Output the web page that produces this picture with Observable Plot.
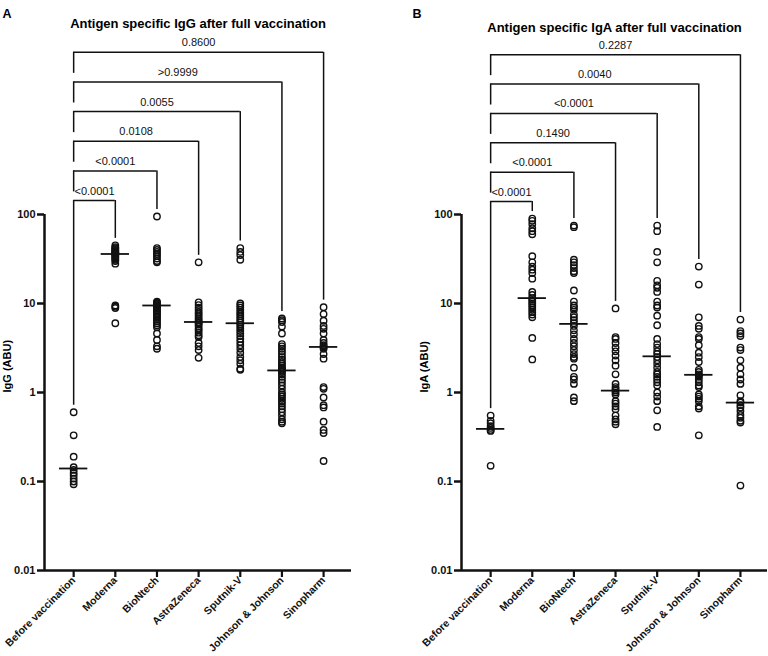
<!DOCTYPE html>
<html><head><meta charset="utf-8">
<script src="https://cdn.jsdelivr.net/npm/d3@7"></script>
<script src="https://cdn.jsdelivr.net/npm/@observablehq/plot@0.6"></script>
<style>
body{margin:0;background:#fff;}
#wrap{display:flex;width:768px;height:656px;overflow:hidden;}
svg{overflow:visible;}
</style></head><body><div id="wrap"></div>
<script>
// ---- data ----
const groups = ["Before vaccination","Moderna","BioNtech","AstraZeneca","Sputnik-V","Johnson & Johnson","Sinopharm"];
const yTicks = [0.01, 0.1, 1, 10, 100];

const igG_before = [0.6, 0.33, 0.19, 0.145, 0.135, 0.125, 0.117, 0.108, 0.1, 0.093];
const igG_moderna = [45, 43, 42, 41, 40, 39, 38, 37.5, 37, 36.5, 36, 35, 34, 33, 32, 31, 30, 28, 9.5, 9.2, 8.9, 6.0];
const igG_biontech = [95, 42, 40, 38, 36, 34, 32, 30, 29, 10.5, 10.2, 10, 9.8, 9.6, 9.4, 9.2, 9, 8.7, 8.4, 8.1, 7.8, 7.5, 7.2, 6.9, 6.6, 6.3, 6, 5.7, 5.4, 4.6, 3.9, 3.3, 3.1];
const igG_astra = [29, 10.3, 9.6, 9.0, 8.5, 8.0, 7.6, 7.2, 6.8, 6.5, 6.2, 6.0, 5.8, 5.5, 5.2, 5.0, 4.7, 4.4, 4.2, 3.6, 3.3, 3.0, 2.45];
const igG_sputnik = [42, 38, 35, 31, 10, 9.5, 9.0, 8.5, 8.0, 7.6, 7.2, 6.8, 6.4, 6.1, 5.8, 5.5, 5.2, 4.9, 4.6, 4.3, 4.0, 3.7, 3.4, 3.1, 2.8, 2.5, 2.3, 2.1, 1.85, 1.8];
const igG_jj = [6.8, 6.5, 6.2, 5.5, 4.6, 3.5, 3.3, 3.1, 2.9, 2.7, 2.5, 2.35, 2.2, 2.1, 2.0, 1.9, 1.85, 1.8, 1.75, 1.7, 1.6, 1.5, 1.4, 1.3, 1.2, 1.1, 1.0, 0.95, 0.9, 0.85, 0.8, 0.75, 0.7, 0.65, 0.6, 0.55, 0.5, 0.47, 0.45];
const igG_sinopharm = [9.1, 7.6, 6.4, 5.6, 5.2, 4.6, 3.9, 3.6, 3.4, 3.3, 3.2, 3.1, 2.7, 2.4, 1.15, 1.1, 0.88, 0.72, 0.68, 0.47, 0.38, 0.35, 0.17];
const igG_medians = [0.14, 36, 9.5, 6.2, 6.0, 1.77, 3.25];
const igG_pvalues = ["<0.0001", "<0.0001", "0.0108", "0.0055", ">0.9999", "0.8600"];

const igA_before = [0.55, 0.48, 0.45, 0.42, 0.40, 0.38, 0.37, 0.15];
const igA_moderna = [90, 85, 78, 70, 65, 60, 34, 29, 26, 24, 22, 19, 13.5, 12.5, 11.5, 11, 10.5, 10, 9.5, 9, 8.5, 8, 7.5, 7, 4.1, 2.35];
const igA_biontech = [75, 72, 31, 29, 27, 25, 23, 22, 14, 10.5, 9.5, 9, 8.5, 7.5, 7, 6.5, 6, 5.6, 5, 4.5, 4, 3.6, 3.3, 3, 2.7, 2.5, 2.4, 1.9, 1.5, 1.4, 1.25, 0.88, 0.8];
const igA_astra = [8.8, 4.2, 4.0, 3.6, 3.2, 2.9, 2.6, 2.3, 2.0, 1.6, 1.25, 1.15, 1.1, 1.05, 1.0, 0.95, 0.8, 0.75, 0.7, 0.65, 0.55, 0.5, 0.47, 0.44];
const igA_sputnik = [75, 65, 38, 29, 18, 16, 15, 13.5, 10.5, 9.5, 9, 7.3, 5.7, 4.0, 3.5, 3.2, 2.9, 2.7, 2.5, 2.3, 2.1, 1.9, 1.7, 1.6, 1.5, 1.4, 1.3, 1.2, 1.0, 0.9, 0.8, 0.63, 0.41];
const igA_jj = [26, 16.3, 7.0, 5.6, 5.2, 4.2, 4.0, 3.4, 2.8, 2.5, 2.2, 1.8, 1.7, 1.6, 1.55, 1.5, 1.4, 1.3, 1.2, 1.15, 0.95, 0.9, 0.85, 0.8, 0.7, 0.66, 0.33];
const igA_sinopharm = [6.6, 4.9, 4.6, 4.3, 3.2, 3.0, 2.3, 1.9, 1.6, 1.4, 1.25, 0.93, 0.8, 0.77, 0.72, 0.68, 0.62, 0.56, 0.52, 0.48, 0.46, 0.09];
const igA_medians = [0.39, 11.5, 5.9, 1.05, 2.55, 1.58, 0.77];
const igA_pvalues = ["<0.0001", "<0.0001", "0.1490", "<0.0001", "0.0040", "0.2287"];

// ---- drawing ----
const INK = "#111";
function panel(o) {
  const pts = o.series.flatMap((vals, i) => vals.map(v => ({i, v})));
  const pxPerDecade = 89;
  const legGap = Math.pow(10, 7 / pxPerDecade);
  const leftLeg = Math.pow(10, 21 / pxPerDecade);
  const br = o.pvalues.map((p, k) => {
    const j = k + 1;
    const y = Math.pow(10, 2 + o.base + o.step * k);
    return {
      j, p, y,
      rEnd: d3.max(o.series[j]) * legGap,
      lEnd: k === 0 ? d3.max(o.series[0]) * legGap : y / leftLeg
    };
  });
  const xmax = o.xmax;
  return Plot.plot({
    width: 384, height: 656,
    marginTop: 214, marginBottom: 86, marginLeft: o.marginLeft, marginRight: o.marginRight,
    x: {type: "linear", domain: [-0.7, xmax]},
    y: {type: "log", domain: [0.01, 100]},
    style: {fontFamily: "'Liberation Sans', Arial, Helvetica, sans-serif", fontSize: "11px", fontWeight: "bold", color: INK, background: "#fff", overflow: "visible"},
    marks: [
      Plot.axisY({ticks: yTicks, tickFormat: d => String(d), tickSize: 7, tickPadding: 2, strokeWidth: 2.5, label: null, fontSize: 11, fill: INK}),
      Plot.axisX({ticks: d3.range(groups.length), tickFormat: i => groups[i], tickSize: 7, tickPadding: 1, tickRotate: -45, strokeWidth: 2.2, label: null, fontSize: 10.5, fill: INK}),
      Plot.ruleX([-0.7], {y1: () => 0.01, y2: () => 100, stroke: INK, strokeWidth: 2.5}),
      Plot.ruleY([0.01], {x1: () => -0.7, x2: () => xmax, stroke: INK, strokeWidth: 2.5}),
      Plot.ruleY(br, {y: "y", x1: () => 0, x2: "j", stroke: INK, strokeWidth: 1.5}),
      Plot.ruleX(br, {x: "j", y1: "y", y2: "rEnd", stroke: INK, strokeWidth: 1.5}),
      Plot.ruleX(br, {x: () => 0, y1: "y", y2: "lEnd", stroke: INK, strokeWidth: 1.5}),
      Plot.text(br, {x: d => d.j / 2, y: "y", text: "p", dy: -9.5, fontSize: 11, fontWeight: "normal", fill: "#111"}),
      Plot.dot(pts, {x: "i", y: "v", r: 3.2, stroke: INK, strokeWidth: 1.4, fill: "none"}),
      Plot.ruleY(o.medians, {y: d => d, x1: (d, i) => i - 0.34, x2: (d, i) => i + 0.34, stroke: INK, strokeWidth: 1.8}),
      Plot.text([o.title], {frameAnchor: "top", dy: o.titleDy, fontSize: 13, fontWeight: "bold", fill: "#000"}),
      Plot.text([o.letter], {frameAnchor: "top-left", textAnchor: "start", dx: o.letterDx, dy: -205.5, fontSize: 12.5, fontWeight: "bold", fill: "#000"}),
      Plot.text([o.ylabel], {frameAnchor: "left", rotate: -90, dx: -37, fontSize: 11, fontWeight: "bold", fill: "#000"})
    ]
  });
}

const wrap = document.getElementById("wrap");
wrap.appendChild(panel({
  series: [igG_before, igG_moderna, igG_biontech, igG_astra, igG_sputnik, igG_jj, igG_sinopharm],
  medians: igG_medians, pvalues: igG_pvalues,
  base: 0.157, step: 0.333, xmax: 6.67, marginLeft: 44, marginRight: 33,
  title: "Antigen specific IgG after full vaccination", titleDy: -196,
  letter: "A", letterDx: -42, ylabel: "IgG (ABU)"
}));
wrap.appendChild(panel({
  series: [igA_before, igA_moderna, igA_biontech, igA_astra, igA_sputnik, igA_jj, igA_sinopharm],
  medians: igA_medians, pvalues: igA_pvalues,
  base: 0.146, step: 0.330, xmax: 6.65, marginLeft: 77, marginRight: 1,
  title: "Antigen specific IgA after full vaccination", titleDy: -192,
  letter: "B", letterDx: -49, ylabel: "IgA (ABU)"
}));
</script></body></html>
